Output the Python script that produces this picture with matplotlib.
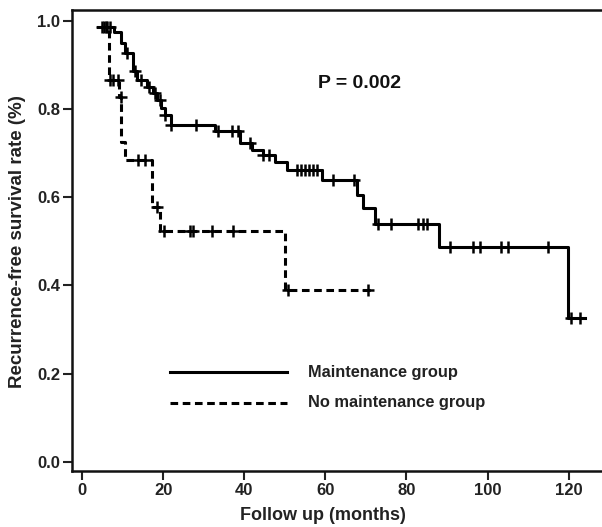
import matplotlib
matplotlib.use("Agg")
import matplotlib.pyplot as plt
import numpy as np

# Maintenance group: step curve (times of level changes, survival levels)
maint_t = [4.0, 8.0, 9.5, 10.5, 12.5, 13.5, 16.0, 17.5, 18.5, 19.5, 20.5, 22.0, 32.8, 39.0, 42.0, 44.6, 47.5, 50.5, 59.1, 67.8, 69.2, 72.2, 87.9, 119.8, 124.0]
maint_s = [0.986, 0.975, 0.950, 0.927, 0.885, 0.866, 0.850, 0.835, 0.820, 0.802, 0.785, 0.764, 0.750, 0.722, 0.707, 0.695, 0.680, 0.662, 0.639, 0.605, 0.575, 0.540, 0.487, 0.326, 0.326]
maint_cens_t = [5.0, 6.0, 7.0, 11.0, 13.0, 14.5, 16.5, 18.0, 19.2, 20.5, 22.0, 28.0, 33.5, 37.0, 38.5, 41.4, 44.6, 46.0, 53.0, 54.0, 55.0, 56.0, 57.0, 58.0, 62.0, 67.0, 73.0, 76.2, 82.8, 84.0, 85.0, 90.7, 96.4, 98.0, 103.3, 105.0, 114.8, 120.5, 122.7]

# No maintenance group
nomaint_t = [4.5, 6.6, 9.2, 9.6, 10.6, 17.2, 19.2, 50.0, 71.5]
nomaint_s = [0.986, 0.866, 0.827, 0.725, 0.684, 0.578, 0.523, 0.390, 0.390]
nomaint_cens_t = [5.5, 6.2, 7.0, 7.6, 9.0, 9.5, 13.8, 15.5, 18.5, 20.2, 26.6, 27.4, 32.0, 37.2, 50.8, 70.5]

xticks = [0, 20, 40, 60, 80, 100, 120]
yticks = [0.0, 0.2, 0.4, 0.6, 0.8, 1.0]

TICK_FONT = ["Liberation Sans Narrow", "Liberation Sans", "DejaVu Sans"]
TEXT_FONT = ["Liberation Sans", "DejaVu Sans"]


def step_value(t, times, surv):
    idx = np.searchsorted(times, t, side="right") - 1
    idx = max(idx, 0)
    return surv[idx]


fig = plt.figure(figsize=(6.02, 5.27), dpi=100)
ax = fig.add_axes([72 / 602, 1 - 471 / 527, 1.0 - 72 / 602 + 0.01, (471 - 10) / 527])

ax.step(maint_t, maint_s, where="post", color="black", lw=2.2)
ax.plot(maint_cens_t, [step_value(t, maint_t, maint_s) for t in maint_cens_t],
        ls="none", marker="+", ms=9, mew=1.8, color="black")

ax.step(nomaint_t, nomaint_s, where="post", color="black", lw=2.2, ls=(0, (2.5, 1.5)))
ax.plot(nomaint_cens_t, [step_value(t, nomaint_t, nomaint_s) for t in nomaint_cens_t],
        ls="none", marker="+", ms=9, mew=1.8, color="black")

ax.set_xlim(-2.46, 128.2 + 0.01 * 602 / 4.058)
ax.set_ylim(-0.0204, 1.024)
ax.set_xticks(xticks)
ax.set_yticks(yticks)
ax.set_xticklabels([str(x) for x in xticks])
ax.set_yticklabels([f"{y:.1f}" for y in yticks])
for lab in ax.get_xticklabels() + ax.get_yticklabels():
    lab.set_fontfamily(TICK_FONT)
    lab.set_fontweight("bold")
    lab.set_fontsize(12)
ax.tick_params(direction="out", length=6.5, width=1.5, pad=2, colors="#222222")
for s in ["left", "bottom", "top"]:
    ax.spines[s].set_linewidth(1.8)
    ax.spines[s].set_color("#111111")
ax.spines["right"].set_visible(False)

# Axis titles
fig.text(323 / 602, 1 - 515 / 527, "Follow up (months)", fontfamily=TEXT_FONT,
         fontweight="bold", fontsize=13, ha="center", va="center", color="#222222")
fig.text(18 / 602, 1 - 242 / 527, "Recurrence-free survival rate (%)", fontfamily=TEXT_FONT,
         fontweight="bold", fontsize=13.5, ha="center", va="center", rotation=90, color="#222222")

# P value text
fig.text(360 / 602, 1 - 83 / 527, "P = 0.002", fontfamily=TEXT_FONT,
         fontweight="bold", fontsize=14, ha="center", va="center", color="#111111")

# Legend (manual)
fig.add_artist(plt.Line2D([170 / 602, 287 / 602], [1 - 372 / 527] * 2, color="black", lw=2.2))
fig.add_artist(plt.Line2D([170 / 602, 287 / 602], [1 - 403 / 527] * 2, color="black", lw=2.2, ls=(0, (2.5, 1.5))))
fig.text(308 / 602, 1 - 372 / 527, "Maintenance group", fontfamily=TEXT_FONT,
         fontweight="bold", fontsize=11.8, ha="left", va="center", color="#222222")
fig.text(308 / 602, 1 - 403 / 527, "No maintenance group", fontfamily=TEXT_FONT,
         fontweight="bold", fontsize=11.8, ha="left", va="center", color="#222222")

fig.savefig("out.png", dpi=100)
